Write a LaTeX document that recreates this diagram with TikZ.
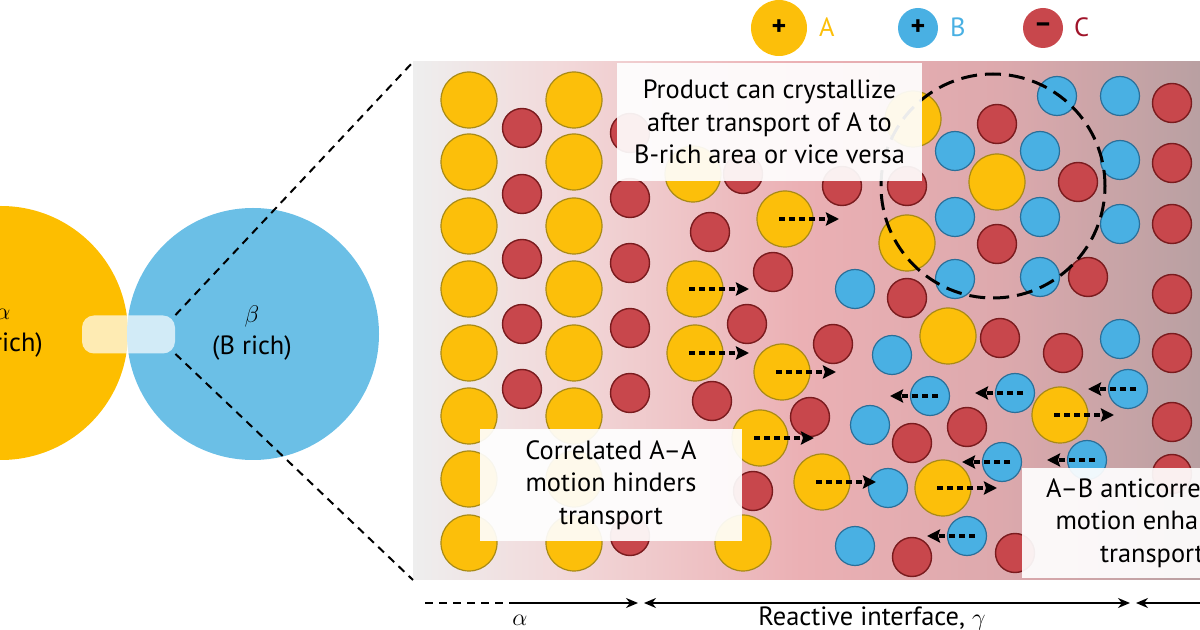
\documentclass[tikz,border=0pt]{standalone}
\usepackage{fontspec}
\setmainfont{PT Sans}
\usetikzlibrary{arrows.meta}
\definecolor{yF}{HTML}{FCBF0A}\definecolor{yD}{HTML}{A88A16}
\definecolor{rF}{HTML}{C8474C}\definecolor{rD}{HTML}{7A1B1E}
\definecolor{bF}{HTML}{49B0E3}\definecolor{bD}{HTML}{2A6F99}
\definecolor{bigY}{HTML}{FDBE00}\definecolor{bigB}{HTML}{6BBFE6}
\definecolor{cC}{HTML}{A0142A}
\definecolor{g0}{HTML}{EEEEEE}\definecolor{g1}{HTML}{F2D9DA}\definecolor{g2}{HTML}{EBB0B4}
\definecolor{g3}{HTML}{DDA9AD}\definecolor{g4}{HTML}{B9A0A2}
\tikzset{
 ya/.style={circle,fill=yF,draw=yD,line width=0.6pt,minimum size=28pt,inner sep=0pt},
 re/.style={circle,fill=rF,draw=rD,line width=0.7pt,minimum size=19.5pt,inner sep=0pt},
 bl/.style={circle,fill=bF,draw=bD,line width=0.6pt,minimum size=19.5pt,inner sep=0pt},
 mv/.style={line width=1.6pt,dash pattern=on 3pt off 2pt,-{Stealth[length=6.5pt,width=6.5pt,inset=1pt]}},
 lbl/.style={fill=white,fill opacity=0.92,text opacity=1,align=center,font=\fontsize{13.2}{16.2}\selectfont,inner sep=0pt},
 txt/.style={font=\fontsize{13.2}{16.2}\selectfont,align=center},
 zl/.style={line width=1pt,dash pattern=on 4pt off 3pt},
 sym/.style={font=\fontsize{14}{14}\selectfont\bfseries}
}
\begin{document}
\begin{tikzpicture}[x=0.5pt,y=-0.5pt]
\useasboundingbox (0,0) rectangle (1200,630);
\shade[left color=g0,right color=g1] (413,62) rectangle (560.5,580);
\shade[left color=g1,right color=g2] (560,62) rectangle (800.5,580);
\shade[left color=g2,right color=g3] (800,62) rectangle (1000.5,580);
\shade[left color=g3,right color=g4] (1000,62) rectangle (1200,580);
\fill[bigY] (1,333) circle[radius=127];
\fill[bigB] (253,334) circle[radius=126];
\node[fill=white,fill opacity=0.7,rounded corners=6pt,minimum width=46.5pt,minimum height=19pt,inner sep=0pt] (win) at (128.5,334.5) {};
\node[txt] (alab) at (3,333) {$\alpha$\\(A rich)};
\node[txt] (blab) at (252,333) {$\beta$\\(B rich)};
\coordinate (pnw) at (413,62); \coordinate (psw) at (413,580);
\draw[zl] (win.north east) -- (pnw);
\draw[zl] (win.south east) -- (psw);
\foreach \y [count=\i] in {100,162,226,289,353,416,479,543}{
 \node[ya] (ya\i) at (469,\y) {}; \node[ya] (yb\i) at (574,\y) {};}
\foreach \y [count=\i] in {128,194,259,324,389}{\node[re] (ra\i) at (522,\y) {};}
\foreach \y [count=\i] in {133,198,263,328,393,536}{\node[re] (rb\i) at (630,\y) {};}
\foreach \p [count=\i] in {(743,174),(710,232),(773,272),(747,324),(712,401),(810,417),(753,491),(842,186),(907,186),(997,124),(997,244),(1078,182),(1088,277),(1172,103),(1172,163),(1172,224),(1172,294),(1172,353),(1172,422),(1172,474),(907,298),(1000,338),(833,344),(1063,353),(967,427),(912,443),(912,557),(1015,553)}{\node[re] (rc\i) at \p {};}
\foreach \p [count=\i] in {(955,151),(1040,151),(955,217),(1040,217),(955,279),(1040,277),(1057,96),(1120,96),(1120,160),(1120,224),(1120,339),(855,289),(892,355),(870,425),(888,488),(855,546)}{\node[bl] (bs\i) at \p {};}
\foreach \p [count=\i] in {(693,174),(913,119),(907,243),(997,182),(948,336),(743,543)}{\node[ya] (ys\i) at \p {};}
\foreach \p [count=\i] in {(785,219),(695,289),(695,353),(782,372),(760,438),(822,482),(943,488),(1060,415)}{
 \node[ya] (ym\i) at \p {};
 \coordinate (ymt\i) at ([xshift=27pt]ym\i.center);
 \draw[mv] ([xshift=-3pt]ym\i.center) -- (ymt\i);}
\foreach \p [count=\i] in {(930,396),(1015,393),(1128,389),(1002,462),(1087,460),(967,536)}{
 \node[bl] (bm\i) at \p {};
 \coordinate (bmt\i) at ([xshift=-20pt]bm\i.center);
 \draw[mv] ([xshift=4pt]bm\i.center) -- (bmt\i);}
\node[draw,circle,line width=1.5pt,dash pattern=on 8pt off 4pt,minimum size=112pt,inner sep=0pt] (cryst) at (993,186) {};
\node[lbl,minimum width=152.5pt,minimum height=59pt] (l1) at (769.5,122) {Product can crystallize\\after transport of A to\\B-rich area or vice versa};
\node[lbl,minimum width=131pt,minimum height=56pt] (l2) at (611,485) {Correlated A–A\\motion hinders\\transport};
\node[fill=white,fill opacity=0.92,minimum width=90pt,minimum height=55pt,inner sep=0pt] (l3b) at (1112,523.5) {};
\node[txt] (l3) at (1152,523) {A–B anticorrelated\\motion enhances\\transport};
\node[ya,minimum size=28pt,draw=none,sym] (kA) at (779,28) {+};
\node[txt,text=yF,anchor=west] (kAt) at (812,27) {A};
\node[bl,minimum size=20pt,draw=none,sym] (kB) at (918,28) {+};
\node[txt,text=bF,anchor=west] (kBt) at (943,27) {B};
\node[re,minimum size=20pt,draw=none,sym] (kC) at (1043,28) {–};
\node[txt,text=cC,anchor=west] (kCt) at (1067,27) {C};
\coordinate (a0) at (425,603); \coordinate (a1) at (510,603); \coordinate (a2) at (638,603);
\coordinate (a3) at (644,603); \coordinate (a4) at (1130,603); \coordinate (a5) at (1136,603); \coordinate (a6) at (1200,603);
\draw[zl] (a0) -- (a1);
\draw[line width=0.9pt,-{Stealth[length=6pt,width=5pt]}] (a1) -- (a2);
\draw[line width=0.9pt,{Stealth[length=6pt,width=5pt]}-{Stealth[length=6pt,width=5pt]}] (a3) -- (a4);
\draw[line width=0.9pt,{Stealth[length=6pt,width=5pt]}-] (a5) -- (a6);
\node[txt] (alpha) at (520,620) {$\alpha$};
\node[txt] (gam) at (872,618) {Reactive interface, $\gamma$};
\end{tikzpicture}
\end{document}
